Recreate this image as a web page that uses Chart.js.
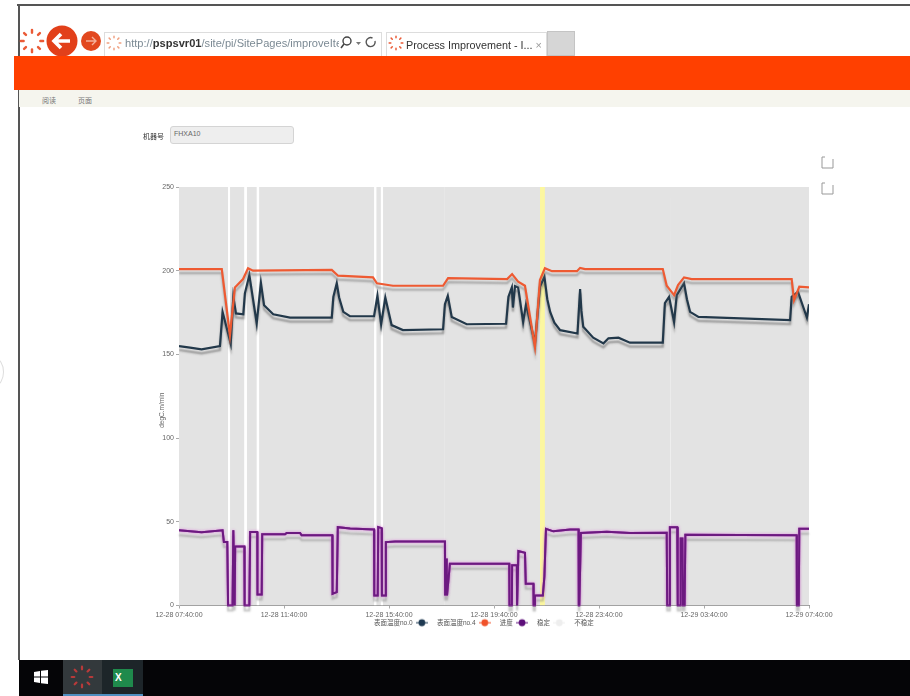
<!DOCTYPE html>
<html>
<head>
<meta charset="utf-8">
<script src="https://cdn.jsdelivr.net/npm/chart.js@4"></script>
<style>
html, body { margin: 0; padding: 0; background: #fff; overflow: hidden; }
#page { position: relative; width: 910px; height: 696px; overflow: hidden; filter: blur(0.5px); font-family: "Liberation Sans", "Noto Sans CJK SC", sans-serif; }
#page > * { position: absolute; box-sizing: border-box; }
</style>
</head>
<body>
<div id="page">
    <div style="left:17px;top:4px;width:893px;height:2px;background:#555"></div>
    <div style="left:17.500px;top:4px;width:2px;height:656px;background:#555"></div>
    <div style="left:-14px;top:358px;width:18px;height:28px;border:1px solid #ddd;border-radius:50%"></div>

    <svg style="left:19px;top:28px;stroke:#ea5a36" width="26" height="26" viewBox="-14 -14 28 28"><g id="spin" stroke-width="2.6" stroke-linecap="round"><path d="M0-12V-9M0 12V9M-12 0H-9M12 0H9M-8.500-8.500L-6.500-6.500M8.500-8.500L6.500-6.500M-8.500 8.500L-6.500 6.500M8.500 8.500L6.500 6.500"/></g></svg>
    <svg style="left:46px;top:25px" width="56" height="32" viewBox="0 0 56 32">
        <circle cx="16" cy="16" r="15.500" fill="#e2401a"/>
        <path d="M24 16H9M15 9L8 16L15 23" stroke="#fff" stroke-width="3.600" fill="none"/>
        <circle cx="45" cy="16" r="10" fill="#e2481f"/>
        <path d="M40 16H50M46 12L50 16L46 20" stroke="#f5b09a" stroke-width="1.400" fill="none"/>
    </svg>
    <div style="left:104px;top:32px;width:278px;height:24px;border:1px solid #ddd;border-bottom:0"></div>
    <svg style="left:106px;top:35px;stroke:#f0a080" width="16" height="16" viewBox="-14 -14 28 28"><use href="#spin"/></svg>
    <div style="left:125px;top:35px;width:214px;height:16px;font-size:11.100px;line-height:16px;white-space:nowrap;overflow:hidden;color:#7c8a94">http://<b style="color:#333">pspsvr01</b>/site/pi/SitePages/improveIte</div>
    <svg style="left:339px;top:34px" width="42" height="18" viewBox="0 0 42 18">
        <circle cx="8" cy="7" r="4" fill="none" stroke="#444" stroke-width="1.400"/><path d="M5 10L2 14" stroke="#444" stroke-width="1.600"/>
        <path d="M17 8L22 8L19.500 11Z" fill="#777"/>
        <path d="M33.500 4A4.500 4.500 0 1 0 36 7" fill="none" stroke="#555" stroke-width="1.400"/>
    </svg>
    <div style="left:386px;top:32px;width:161px;height:24px;border:1px solid #ddd;border-bottom:0"></div>
    <svg style="left:388px;top:35px;stroke:#ea5a36" width="16" height="16" viewBox="-14 -14 28 28"><use href="#spin"/></svg>
    <div style="left:406px;top:37px;width:140px;height:16px;font-size:10.800px;line-height:16px;white-space:nowrap;color:#333">Process Improvement - I... <span style="color:#999">×</span></div>
    <div style="left:547px;top:31px;width:28px;height:25px;background:#d6d6d6;border:1px solid #c4c4c4"></div>

    <div style="left:14px;top:56px;width:896px;height:34px;background:#ff4000"></div>
    <div style="left:19px;top:90px;width:891px;height:17px;background:#f5f5ee"></div>
    <div style="left:42px;top:97px;font-size:7px;line-height:8px;color:#777">阅读</div>
    <div style="left:78px;top:97px;font-size:7px;line-height:8px;color:#777">页面</div>

    <div style="left:143px;top:132px;font-size:7px;line-height:9px;color:#333">机器号</div>
    <div style="left:170px;top:126px;width:124px;height:18px;background:#eee;border:1px solid #d4d4d4;border-radius:3px;font-size:7px;line-height:14px;padding-left:3px;color:#666">FHXA10</div>

    <svg style="left:820px;top:154px" width="16" height="44" viewBox="0 0 16 44" fill="none" stroke="#999" stroke-width="1">
        <path d="M5 3H2V14H13V5"/><path d="M5 29H2V40H13V31"/>
    </svg>

    <canvas id="trendChart" width="730" height="476" style="left:130px;top:170px;width:730px;height:476px"></canvas>

    <div style="left:19px;top:660px;width:891px;height:36px;background:#050507"></div>
    <svg style="left:33px;top:669px" width="16" height="16" viewBox="0 0 16 16" fill="#fff"><path d="M1 3L7 2V7.500H1ZM8 1.800L15 1V7.500H8ZM1 8.500H7V14L1 13ZM8 8.500H15V15L8 14.200Z"/></svg>
    <div style="left:63px;top:660px;width:39px;height:36px;background:#33393c;border-bottom:2px solid #4f8fc0"></div>
    <svg style="left:70px;top:665px;stroke:#b83a3a" width="24" height="24" viewBox="-14 -14 28 28"><use href="#spin"/></svg>
    <div style="left:102px;top:660px;width:41px;height:36px;background:#1d2529;border-bottom:2px solid #4f8fc0"></div>
    <div style="left:113px;top:669px;width:20px;height:18px;background:#1f8a4c;color:#fff;font-size:10px;font-weight:bold;line-height:18px;padding-left:2px">X</div>
</div>
<script>
// x values are hours after 12-28 07:40:00
const xTickLabels = ["12-28 07:40:00", "12-28 11:40:00", "12-28 15:40:00", "12-28 19:40:00", "12-28 23:40:00", "12-29 03:40:00", "12-29 07:40:00"];
const seriesNames = ["表面温度no.0", "表面温度no.4", "进度", "稳定", "不稳定"];

const temp0Hours = [0, 0.42, 0.86, 1.56, 1.66, 1.75, 1.97, 2.07, 2.17, 2.45, 2.51, 2.68, 2.96, 3.12, 3.24, 3.59, 4.23, 5.82, 5.88, 6.01, 6.10, 6.26, 6.51, 7.43, 7.56, 7.70, 7.86, 8.10, 8.53, 10.06, 10.13, 10.24, 10.39, 10.96, 12.46, 12.55, 12.68, 12.72, 12.80, 12.92, 13.11, 13.22, 13.56, 13.75, 13.92, 14.03, 14.14, 14.30, 14.52, 15.18, 15.28, 15.33, 15.40, 15.78, 16.17, 16.36, 16.74, 17.18, 18.43, 18.51, 18.67, 18.86, 18.96, 19.24, 19.35, 19.47, 19.79, 23.28, 23.34, 23.58, 23.92, 24];
const temp0Values = [155, 154, 153, 155, 175.4, 170, 156.5, 184.4, 174.5, 174, 186.5, 197.4, 168.6, 192.8, 179.4, 174, 172, 172, 184.4, 192.5, 184, 175.4, 172.8, 172.8, 185, 168, 184, 167.5, 164.5, 165, 180, 185, 172.4, 168, 168.3, 184.4, 190, 178, 190.8, 190, 169.4, 180, 156.6, 190.4, 196.4, 183, 175.4, 169, 164.5, 162.5, 189, 176, 166.5, 160, 156.6, 159.6, 160, 157, 157, 180.6, 184.4, 169.4, 185.4, 192.5, 183, 175.4, 172.4, 170.5, 184.4, 187.4, 172, 180];

const temp4Hours = [0, 1.63, 1.94, 2.13, 2.44, 2.63, 2.82, 5.82, 6.06, 7.39, 7.54, 8.15, 10.06, 10.25, 12.50, 12.69, 12.92, 13.18, 13.56, 13.75, 13.94, 14.21, 15.16, 15.28, 15.47, 18.43, 18.58, 18.86, 19.01, 19.24, 19.53, 23.34, 23.43, 23.63, 24];
const temp4Values = [201, 201, 161.5, 190, 195, 201.5, 200, 200.5, 197, 196, 192.5, 191, 191, 195.5, 195, 198, 193.5, 191, 154.5, 194.4, 201.5, 199.7, 199.7, 201.7, 201, 201, 191, 185.4, 191.4, 196, 195, 195, 182.4, 190.4, 190];

const progressHours = [0, 0.86, 1.66, 1.71, 1.84, 1.87, 2.04, 2.07, 2.12, 2.14, 2.49, 2.50, 2.68, 2.71, 2.98, 2.99, 3.15, 3.17, 4.04, 4.10, 4.61, 4.67, 5.84, 5.85, 6.01, 6.05, 6.52, 7.43, 7.44, 7.57, 7.59, 7.72, 7.73, 7.87, 7.88, 8.23, 10.13, 10.14, 10.20, 10.21, 10.32, 12.58, 12.59, 12.68, 12.69, 12.87, 12.88, 12.91, 12.93, 13.18, 13.21, 13.50, 13.51, 13.54, 13.56, 13.86, 13.92, 13.98, 14.26, 14.90, 15.22, 15.23, 15.25, 15.31, 16.30, 17.18, 18.58, 18.60, 18.67, 18.70, 18.98, 19.00, 19.09, 19.11, 19.18, 19.20, 19.26, 19.29, 23.53, 23.54, 23.61, 23.63, 24];
const progressValues = [44.9, 43.7, 44.9, 37.9, 37.9, 0, 0, 44.9, 0, 35.3, 35.3, 0, 0, 43.9, 43.9, 6.6, 6.6, 42.5, 42.5, 43.3, 43.3, 42, 42, 7, 8, 46.8, 46, 45.4, 6, 6, 46.8, 46.2, 6, 6, 37.9, 38.3, 38.3, 6, 28, 6, 25, 25, 0, 0, 24, 24, 0, 0, 32.5, 31.5, 13, 13, 0, 0, 6, 6, 17.3, 45.8, 44.3, 45.4, 45.4, 0, 0, 43.3, 44, 43.3, 43.5, 0, 0, 46.8, 46.8, 0, 0, 40, 40, 0, 0, 42.3, 42, 0, 0, 45.8, 45.8];

const unstableStart = [1.86, 2.48, 2.95, 7.43, 7.68, 10.09, 18.71];
const unstableEnd = [1.95, 2.59, 3.06, 7.53, 7.78, 10.11, 18.74];
const highlightStart = [13.75];
const highlightEnd = [13.94];
const bandTop = 250;

function toPoints(xs, ys) {
    return xs.map((x, i) => ({ x: x, y: ys[i] }));
}

function bandPoints(starts, ends) {
    const pts = [];
    starts.forEach((s, i) => {
        pts.push({ x: s, y: bandTop }, { x: ends[i], y: bandTop }, { x: ends[i], y: null });
    });
    return pts;
}

function legendMark(color, withLine) {
    const c = document.createElement("canvas");
    c.width = 12;
    c.height = 10;
    const g = c.getContext("2d");
    if (withLine) {
        g.strokeStyle = color;
        g.lineWidth = 1;
        g.beginPath();
        g.moveTo(0, 5);
        g.lineTo(12, 5);
        g.stroke();
    }
    g.fillStyle = color;
    g.beginPath();
    g.arc(6, 5, 3.4, 0, Math.PI * 2);
    g.fill();
    return c;
}

const legendMarks = [
    legendMark("#1f3a52", true),
    legendMark("#f0522a", true),
    legendMark("#5d0f7a", true),
    legendMark("#eeeeee", true),
    legendMark("#ffffff", false)
];

// grey drop shadow under the lines, pink glow on the purple one
const lineShadow = {
    id: "lineShadow",
    afterLayout(chart) {
        // legend sits tight under the tick labels, a little right of centre
        const legend = chart.legend;
        legend.left += 8;
        legend.right += 8;
        legend.top -= 9;
        legend.bottom -= 9;
        // axis title sits lower than the middle of the axis
        const y = chart.scales.y;
        const drawTitle = y.drawTitle;
        y.drawTitle = function () {
            chart.ctx.save();
            chart.ctx.translate(0, 14);
            drawTitle.call(y);
            chart.ctx.restore();
        };
    },
    beforeDatasetDraw(chart, args) {
        const o = chart.data.datasets[args.index].shadow;
        if (!o) return;
        const ctx = chart.ctx;
        ctx.save();
        if (o.under) {
            ctx.shadowColor = o.under;
            ctx.shadowBlur = 2;
            ctx.shadowOffsetY = 5;
            args.meta.controller.draw();
        }
        ctx.shadowColor = o.color;
        ctx.shadowBlur = o.blur;
        ctx.shadowOffsetY = o.y;
    },
    afterDatasetDraw(chart, args) {
        if (chart.data.datasets[args.index].shadow) chart.ctx.restore();
    }
};

const fontFamily = '"Liberation Sans", "Noto Sans CJK SC", sans-serif';

new Chart(document.getElementById("trendChart").getContext("2d"), {
    type: "line",
    data: {
        datasets: [
            {
                label: seriesNames[0],
                data: toPoints(temp0Hours, temp0Values),
                borderColor: "#22384a",
                borderWidth: 2.2,
                tension: 0,
                shadow: { color: "rgba(90,90,90,.55)", blur: 2, y: 4 },
                order: 2
            },
            {
                label: seriesNames[1],
                data: toPoints(temp4Hours, temp4Values),
                borderColor: "#ee5a32",
                borderWidth: 2.2,
                tension: 0,
                shadow: { color: "rgba(110,110,110,.5)", blur: 2, y: 4 },
                order: 1
            },
            {
                label: seriesNames[2],
                data: toPoints(progressHours, progressValues),
                borderColor: "#6c1a80",
                borderWidth: 2,
                tension: 0,
                shadow: { color: "rgba(220,120,220,.95)", blur: 3, y: 0, under: "rgba(120,120,120,.45)" },
                order: 3
            },
            {
                label: seriesNames[3],
                data: [{ x: 0, y: bandTop }, { x: 24, y: bandTop }],
                borderWidth: 0,
                borderColor: "transparent",
                backgroundColor: "#e3e3e3",
                fill: "origin",
                order: 7
            },
            {
                label: seriesNames[4],
                data: bandPoints(unstableStart, unstableEnd),
                borderWidth: 0,
                borderColor: "transparent",
                backgroundColor: "#ffffff",
                fill: "origin",
                order: 6
            },
            {
                label: "",
                data: bandPoints(highlightStart, highlightEnd),
                borderWidth: 0,
                borderColor: "transparent",
                backgroundColor: "#fcf7a0",
                fill: "origin",
                order: 5
            }
        ]
    },
    options: {
        responsive: false,
        animation: false,
        parsing: false,
        normalized: true,
        layout: { padding: { left: 28, right: 51, top: 17, bottom: 1 } },
        elements: { point: { radius: 0 } },
        scales: {
            x: {
                type: "linear",
                min: 0,
                max: 24,
                grid: { display: true, drawOnChartArea: false, color: "#aaa", tickLength: 3 },
                border: { color: "#999" },
                afterTickToLabelConversion(scale) {
                    scale.ticks.forEach((t, i) => { t.label = xTickLabels[i]; });
                },
                afterFit(scale) { scale.height = 14; },
                ticks: {
                    stepSize: 4,
                    maxRotation: 0,
                    autoSkip: false,
                    color: "#666",
                    padding: 2,
                    font: { family: fontFamily, size: 7 }
                }
            },
            y: {
                min: 0,
                max: 250,
                afterFit(scale) { scale.width = 21; },
                grid: { display: true, drawOnChartArea: false, color: "#aaa", tickLength: 3 },
                border: { color: "#bbb" },
                title: {
                    display: true,
                    text: "degC.m/min",
                    color: "#666",
                    padding: 0,
                    font: { family: fontFamily, size: 6.5 }
                },
                ticks: {
                    stepSize: 50,
                    color: "#666",
                    padding: 2,
                    font: { family: fontFamily, size: 7 }
                }
            }
        },
        plugins: {
            tooltip: { enabled: false },
            title: { display: false },
            legend: {
                position: "bottom",
                rtl: true,
                reverse: true,
                textDirection: "ltr",
                labels: {
                    usePointStyle: true,
                    pointStyleWidth: 12,
                    padding: 9,
                    color: "#555",
                    font: { family: fontFamily, size: 6.5 },
                    generateLabels() {
                        return seriesNames.map((name, i) => ({
                            text: name,
                            pointStyle: legendMarks[i],
                            datasetIndex: i,
                            fontColor: "#555",
                            lineWidth: 0,
                            strokeStyle: "transparent",
                            fillStyle: "transparent"
                        }));
                    }
                }
            }
        }
    },
    plugins: [lineShadow]
});
</script>
</body>
</html>
